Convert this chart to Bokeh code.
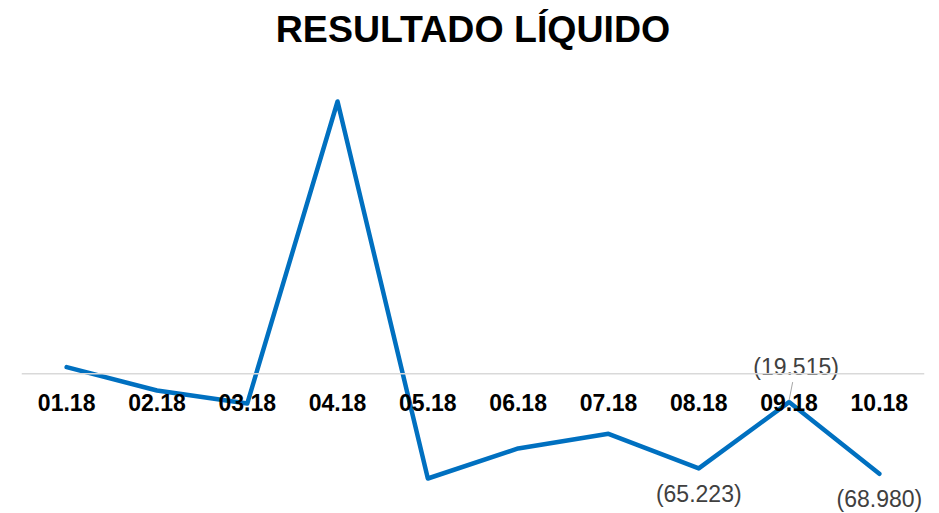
from bokeh.plotting import figure
from bokeh.models import ColumnDataSource, Span, Range1d, Label
from bokeh.core.properties import value
from bokeh.embed import file_html
from bokeh.resources import INLINE

months = ["01.18", "02.18", "03.18", "04.18", "05.18", "06.18", "07.18", "08.18", "09.18", "10.18"]
resultado = [4.6, -11.5, -20.5, 187.8, -72.2, -51.5, -41.4, -65.223, -19.515, -68.980]
data_labels = ["", "", "", "", "", "", "", "(65.223)", "(19.515)", "(68.980)"]
title_text = "RESULTADO LÍQUIDO"

xs = list(range(len(months)))
src = ColumnDataSource(dict(x=xs, y=resultado, month=months, zero=[0] * len(months)))

FONT = "Liberation Sans"
PX_PER_UNIT = 1.45
FRAME_H = 513
ZERO_FROM_TOP = 373.3

p = figure(width=939, height=513, output_backend="svg", toolbar_location=None,
           x_axis_location=None, y_axis_location=None,
           min_border_left=21, min_border_right=15, min_border_top=0, min_border_bottom=0,
           x_range=Range1d(-0.5, len(months) - 0.5),
           y_range=Range1d(-(FRAME_H - ZERO_FROM_TOP) / PX_PER_UNIT, ZERO_FROM_TOP / PX_PER_UNIT))
p.xgrid.visible = False
p.ygrid.visible = False
p.outline_line_color = None
p.background_fill_color = "white"
p.border_fill_color = "white"

p.add_layout(Span(location=0, dimension="width", line_color="#D9D9D9", line_width=1.5))

p.line("x", "y", source=src, line_color="#0070C0", line_width=4.5,
       line_join="round", line_cap="round")

# category labels sitting on the zero line
p.text("x", "zero", text="month", source=src, text_font=value(FONT), text_font_style="bold",
       text_font_size="23px", text_color="#000000", text_align="center",
       text_baseline="middle", y_offset=29)

# data labels
below_idx = [7, 9]
below_off = [26, 25]
for i, off in zip(below_idx, below_off):
    p.text(x=[xs[i]], y=[resultado[i]], text=[data_labels[i]], text_font=value(FONT),
           text_font_size="23px", text_color="#404040", text_align="center",
           text_baseline="middle", y_offset=off)
i = 8
p.text(x=[xs[i]], y=[resultado[i]], text=[data_labels[i]], text_font=value(FONT),
       text_font_size="23px", text_color="#404040", text_align="center",
       text_baseline="middle", y_offset=-35, x_offset=7)
p.segment(x0=[xs[i]], y0=[resultado[i] + 1.2], x1=[xs[i] + 0.04], y1=[resultado[i] + 13.8],
          line_color="#A6A6A6", line_width=1)

p.add_layout(Label(x=(len(months) - 1) / 2, y=(ZERO_FROM_TOP - 28) / PX_PER_UNIT, text=title_text,
                   text_font=FONT, text_font_style="bold", text_font_size="37.5px",
                   text_color="#000000", text_align="center", text_baseline="middle"))

open("out.html", "w").write(file_html(p, INLINE))
